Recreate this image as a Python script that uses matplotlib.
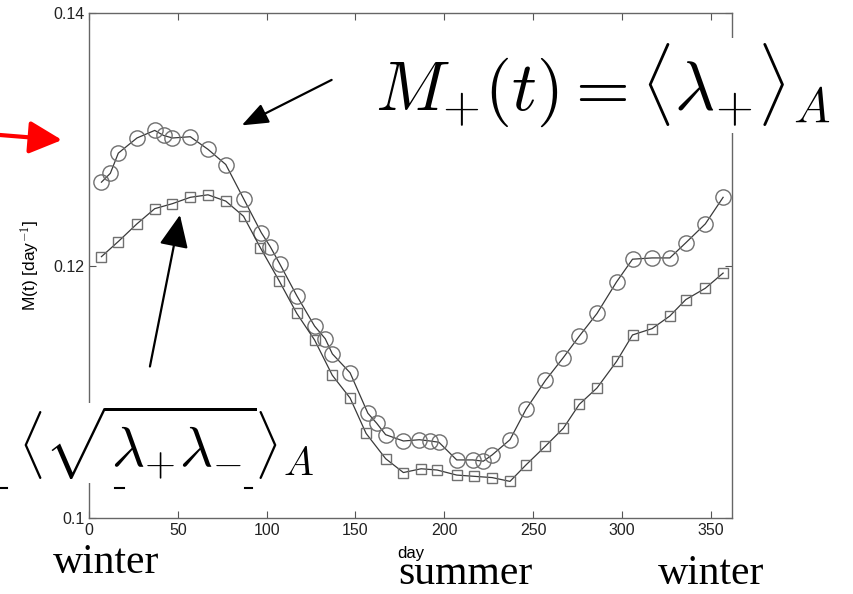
import matplotlib
matplotlib.use('Agg')
import matplotlib.pyplot as plt
from matplotlib.lines import Line2D

# values
days_plus = [7, 12, 16.5, 27, 37, 42, 47, 57, 67, 77, 87, 97, 102, 107.5, 117,
             127, 133, 137, 147, 157, 162, 167, 177, 186, 192, 197, 207, 216,
             222, 227, 237, 246, 257, 267, 276, 286, 297, 306, 317, 327, 336,
             347, 357]
m_plus = [0.1266, 0.1273, 0.1289, 0.1301, 0.1307, 0.1303, 0.1301, 0.1302,
          0.1292, 0.1280, 0.1253, 0.1226, 0.1215, 0.1201, 0.1176, 0.1152,
          0.1142, 0.1130, 0.1115, 0.1083, 0.1075, 0.1066, 0.1061, 0.1062,
          0.1061, 0.1060, 0.1046, 0.1046, 0.1045, 0.1050, 0.1062, 0.1086,
          0.1109, 0.1127, 0.1144, 0.1162, 0.1187, 0.1205, 0.1206, 0.1206,
          0.1218, 0.1233, 0.1254]

days_geo = [7, 16.5, 27, 37, 47, 57, 67, 77, 87, 96.5, 107, 117, 127, 137,
            147, 156, 167, 177, 187, 196, 207, 217, 227, 237, 246, 257, 267,
            276, 286, 297, 306, 317, 327, 336, 347, 357]
m_geo = [0.1207, 0.1219, 0.1233, 0.1245, 0.1249, 0.1254, 0.1256, 0.1251,
         0.1239, 0.1214, 0.1188, 0.1162, 0.1141, 0.1113, 0.1095, 0.1067,
         0.1047, 0.1036, 0.1039, 0.1038, 0.1034, 0.1033, 0.1032, 0.1029,
         0.1042, 0.1057, 0.1071, 0.1090, 0.1103, 0.1124, 0.1145, 0.1150,
         0.1160, 0.1173, 0.1182, 0.1194]

xticks = [0, 50, 100, 150, 200, 250, 300, 350]
yticks = [0.1, 0.12, 0.14]
ytick_labels = ['0.1', '0.12', '0.14']
seasons = ['winter', 'summer', 'winter']

plt.rcParams['mathtext.fontset'] = 'cm'
plt.rcParams['font.family'] = ['Liberation Sans', 'DejaVu Sans']

W, H = 854, 594
fig = plt.figure(figsize=(W / 100, H / 100), dpi=100)


def px(x, y):
    # pixel position (from top-left) -> figure fraction
    return x / W, 1 - y / H


ax = fig.add_axes([89 / W, 1 - 518 / H, (732 - 89) / W, (518 - 13) / H])

ax.plot(days_plus, m_plus, color='#3a3a3a', lw=0.9, marker='o', ms=11,
        mfc='none', mec='#707070', mew=1.0)
ax.plot(days_geo, m_geo, color='#3a3a3a', lw=0.9, marker='s', ms=7.5,
        mfc='none', mec='#707070', mew=1.0)

ax.set_xlim(0, 362)
ax.set_ylim(0.1, 0.14)
ax.set_xticks(xticks)
ax.set_yticks(yticks)
ax.set_yticklabels(ytick_labels)
ax.tick_params(direction='in', length=5, width=0.8, colors='#555555',
               labelcolor='#222222', labelsize=11.5, top=True, right=True)
for s in ax.spines.values():
    s.set_color('#666666')
    s.set_linewidth(1.0)
ax.set_xlabel('day', fontsize=12, labelpad=6)
ax.set_ylabel(r'M(t) [day$^{-1}$]', fontsize=12.5, labelpad=8)

# arrows pointing at the curves
ax.annotate('', xy=(86, 0.1311), xytext=(136.6, 0.1347),
            arrowprops=dict(arrowstyle='-|>,head_length=0.9,head_width=0.35',
                            color='black', lw=1.6, mutation_scale=18,
                            shrinkA=0, shrinkB=0))
ax.annotate('', xy=(51.2, 0.1240), xytext=(34.3, 0.1120),
            arrowprops=dict(arrowstyle='-|>,head_length=1.0,head_width=0.45',
                            color='black', lw=1.6, mutation_scale=20,
                            shrinkA=0, shrinkB=0))
fig.add_artist(matplotlib.patches.FancyArrowPatch(
    px(0, 135), px(62, 140), transform=fig.transFigure,
    arrowstyle='-|>,head_length=1.0,head_width=0.5', color='red',
    lw=3, mutation_scale=20, shrinkA=0, shrinkB=0))

# pasted formulas with white backgrounds
fig.text(*px(375, 110), r'$M_{+}(t) = \langle\lambda_{+}\rangle_{A}$',
         fontsize=50, va='baseline', ha='left',
         bbox=dict(facecolor='white', edgecolor='none', boxstyle='square,pad=0.05'))
fig.text(*px(18, 467), r'$\langle\sqrt{\lambda_{+}\lambda_{-}}\rangle_{A}$',
         fontsize=41, va='baseline', ha='left',
         bbox=dict(facecolor='white', edgecolor='none', boxstyle='square,pad=0.02'))

for x0, x1 in [(0, 7), (115, 124), (245, 252)]:
    fig.add_artist(Line2D([x0 / W, x1 / W], [1 - 488 / H] * 2,
                          transform=fig.transFigure, color='black', lw=1.5))

# season labels
for name, (x, y) in zip(seasons, [(53, 573), (398, 584), (658, 584)]):
    fig.text(*px(x, y), name, fontsize=30, family='Liberation Serif',
             va='baseline', ha='left')

fig.savefig('out.png', dpi=100)
